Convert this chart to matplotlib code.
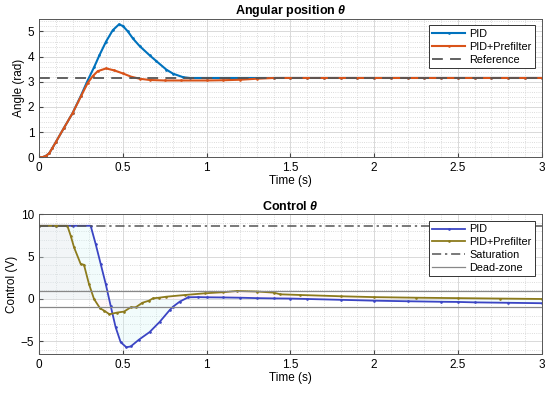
import numpy as np
import matplotlib.pyplot as plt
from matplotlib.ticker import MultipleLocator

plt.rcParams['font.family'] = ['Liberation Sans', 'DejaVu Sans']
plt.rcParams['mathtext.fontset'] = 'custom'
plt.rcParams['mathtext.it'] = 'Liberation Sans:italic:bold'
plt.rcParams['mathtext.rm'] = 'Liberation Sans:bold'

# angular position (rad)
t_pid = [0, 0.02, 0.04, 0.06, 0.08, 0.1, 0.15, 0.2, 0.25, 0.29, 0.33, 0.36, 0.4, 0.44,
         0.477, 0.5, 0.53, 0.56, 0.6, 0.66, 0.7, 0.76, 0.8, 0.86, 0.9, 1.0, 1.1, 1.2,
         1.3, 1.4, 1.5, 1.6, 1.7, 1.8, 1.9, 2.0, 2.1, 2.2, 2.3, 2.4, 2.5, 2.6, 2.7,
         2.8, 2.9, 3.0]
th_pid = [0, 0.0, 0.05, 0.15, 0.37, 0.6, 1.18, 1.75, 2.45, 3.05, 3.6, 4.05, 4.6, 5.05,
          5.28, 5.22, 5.0, 4.72, 4.42, 4.05, 3.82, 3.48, 3.32, 3.18, 3.15, 3.15, 3.15,
          3.15, 3.15, 3.15, 3.15, 3.15, 3.15, 3.15, 3.15, 3.15, 3.15, 3.15, 3.15, 3.15,
          3.15, 3.15, 3.15, 3.15, 3.15, 3.15]
t_pf = [0, 0.02, 0.04, 0.06, 0.08, 0.1, 0.15, 0.2, 0.25, 0.29, 0.32, 0.35, 0.4, 0.45,
        0.5, 0.55, 0.6, 0.66, 0.75, 0.85, 1.0, 1.1, 1.2, 1.3, 1.4, 1.5, 1.6, 1.7, 1.8,
        1.9, 2.0, 2.1, 2.2, 2.3, 2.4, 2.5, 2.6, 2.7, 2.8, 2.9, 3.0]
th_pf = [0, 0.0, 0.05, 0.15, 0.37, 0.6, 1.18, 1.75, 2.42, 2.95, 3.22, 3.42, 3.53, 3.45,
         3.33, 3.2, 3.12, 3.07, 3.05, 3.05, 3.05, 3.06, 3.08, 3.12, 3.15, 3.15, 3.15,
         3.15, 3.15, 3.15, 3.15, 3.15, 3.15, 3.15, 3.15, 3.15, 3.15, 3.15, 3.15, 3.15,
         3.15]
theta_ref = 3.14

# control voltage (V)
tu_pid = [0, 0.1, 0.2, 0.308, 0.338, 0.368, 0.398, 0.427, 0.457, 0.487, 0.521, 0.547,
          0.596, 0.66, 0.72, 0.78, 0.8, 0.84, 0.89, 0.95, 1.0, 1.1, 1.2, 1.3, 1.4, 1.5,
          1.6, 1.8, 2.0, 2.2, 2.4, 2.5, 2.6, 2.8, 3.0]
u_pid = [8.63, 8.63, 8.63, 8.63, 6.47, 4.12, 1.76, -0.78, -3.33, -5.1, -5.69, -5.6,
         -4.8, -3.9, -2.7, -1.3, -0.9, -0.31, 0.2, 0.22, 0.2, 0.18, 0.15, 0.1, 0.07,
         0.05, 0.0, -0.1, -0.2, -0.27, -0.33, -0.35, -0.4, -0.45, -0.5]
tu_pf = [0, 0.1, 0.169, 0.189, 0.209, 0.249, 0.268, 0.298, 0.328, 0.364, 0.388, 0.42,
         0.467, 0.507, 0.547, 0.577, 0.616, 0.656, 0.68, 0.716, 0.76, 0.87, 0.99, 1.1,
         1.18, 1.3, 1.4, 1.44, 1.56, 1.8, 2.0, 2.25, 2.5, 2.75, 3.0]
u_pf = [8.63, 8.63, 8.63, 7.45, 6.08, 4.1, 4.04, 1.76, 0.0, -1.1, -1.37, -1.8, -1.6,
        -1.49, -0.98, -0.98, -0.45, -0.2, 0.08, 0.15, 0.27, 0.47, 0.67, 0.8, 0.94,
        0.88, 0.75, 0.55, 0.47, 0.32, 0.22, 0.15, 0.1, 0.05, 0.0]
u_sat = 8.6
u_dead = 0.9

fig = plt.figure(figsize=(5.5, 3.93), dpi=100)
ax1 = fig.add_axes([0.071, 0.600, 0.914, 0.352])
ax2 = fig.add_axes([0.071, 0.099, 0.914, 0.356])

ax1.plot(t_pid, th_pid, '.-', color='#0072BD', lw=1.5, ms=1.8, label='PID')
ax1.plot(t_pf, th_pf, '.-', color='#D95319', lw=1.5, ms=1.8, label='PID+Prefilter')
ax1.axhline(theta_ref, color='#555555', ls=(0, (6, 4)), lw=1.3, label='Reference')
ax1.set_ylim(0, 5.5)
ax1.set_title(r'Angular position $\theta$', fontsize=9, fontweight='bold', pad=3)
ax1.set_ylabel('Angle (rad)', fontsize=8.5, labelpad=2)
ax1.yaxis.set_major_locator(MultipleLocator(1))
ax1.yaxis.set_minor_locator(MultipleLocator(0.2))

ax2.fill_between(tu_pf, u_pf, 0, color='#ffd6e4', alpha=0.2, lw=0)
ax2.fill_between(tu_pid, u_pid, 0, color='#ccf5f5', alpha=0.25, lw=0)
ax2.plot(tu_pid, u_pid, '.-', color='#3b45c4', lw=1.3, ms=1.8, label='PID')
ax2.plot(tu_pf, u_pf, '.-', color='#8c7b1c', lw=1.3, ms=1.8, label='PID+Prefilter')
ax2.axhline(u_sat, color='#555555', ls=(0, (6, 2.5, 1.5, 2.5)), lw=1.1, label='Saturation')
ax2.axhline(u_dead, color='#888888', lw=0.9, label='Dead-zone')
ax2.axhline(-u_dead, color='#888888', lw=0.9)
ax2.set_ylim(-6.5, 10)
ax2.set_title(r'Control $\theta$', fontsize=9, fontweight='bold', pad=3)
ax2.set_ylabel('Control (V)', fontsize=8.5, labelpad=2)
ax2.yaxis.set_major_locator(MultipleLocator(5))
ax2.yaxis.set_minor_locator(MultipleLocator(1))

for ax in (ax1, ax2):
    ax.set_xlim(0, 3)
    ax.xaxis.set_major_locator(MultipleLocator(0.5))
    ax.xaxis.set_minor_locator(MultipleLocator(0.1))
    ax.set_xticks([0, 0.5, 1, 1.5, 2, 2.5, 3])
    ax.set_xticklabels(['0', '0.5', '1', '1.5', '2', '2.5', '3'])
    ax.set_xlabel('Time (s)', fontsize=8.5, labelpad=1)
    ax.grid(which='major', color='#d9d9d9', lw=0.7)
    ax.grid(which='minor', color='#d0d0d0', lw=0.6, ls=':')
    ax.set_axisbelow(True)
    ax.tick_params(which='both', direction='in', labelsize=8.5, color='#444444',
                   top=False, right=False)
    ax.tick_params(which='major', length=3)
    ax.tick_params(which='minor', length=0)
    for s in ax.spines.values():
        s.set_color('#555555')
        s.set_linewidth(0.7)
    ax.legend(loc='upper right', fontsize=7.8, frameon=True, fancybox=False,
              edgecolor='#333333', framealpha=1, numpoints=1, handlelength=3,
              borderpad=0.35, labelspacing=0.25, handletextpad=0.4,
              borderaxespad=0.6).get_frame().set_linewidth(0.7)

fig.savefig('out.png', dpi=100)
